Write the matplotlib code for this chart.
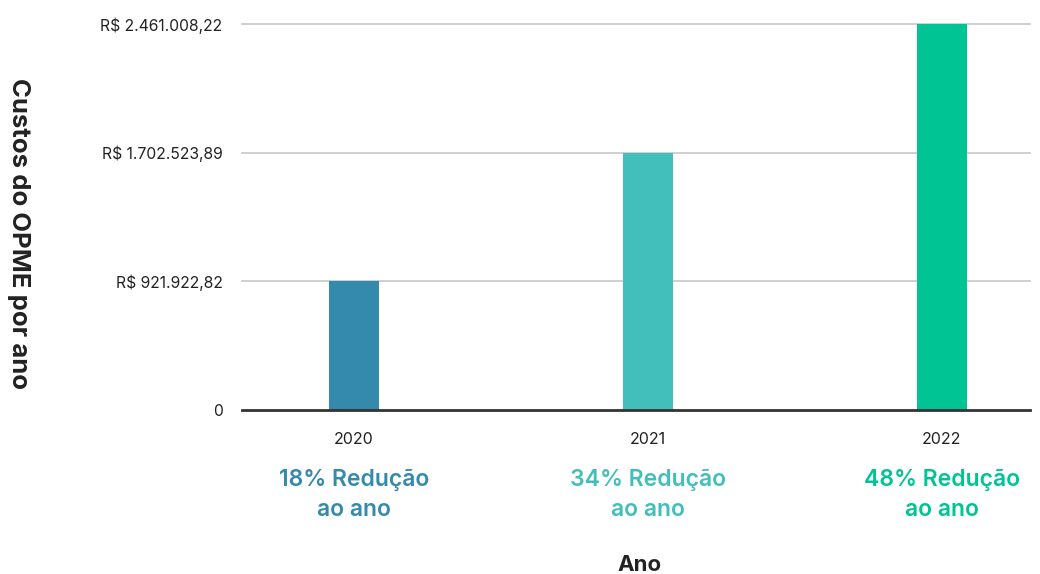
import numpy as np
import matplotlib
matplotlib.use("Agg")
import matplotlib.pyplot as plt
from matplotlib.transforms import blended_transform_factory

years = ["2020", "2021", "2022"]
costs = [921922.82, 1702523.89, 2461008.22]
tick_labels = ["0", "R$ 921.922,82", "R$ 1.702.523,89", "R$ 2.461.008,22"]
reductions = ["18% Redução\nao ano", "34% Redução\nao ano", "48% Redução\nao ano"]
colors = ["#348AAD", "#42BFBA", "#00C494"]

plt.rcParams['font.family'] = ['Inter', 'DejaVu Sans']

tick_vals = np.array([0.0] + costs)
tick_pos = np.arange(len(tick_vals), dtype=float)

def forward(v):
    v = np.asarray(v, dtype=float)
    out = np.interp(v, tick_vals, tick_pos)
    slope = (tick_pos[-1] - tick_pos[-2]) / (tick_vals[-1] - tick_vals[-2])
    out = np.where(v > tick_vals[-1], tick_pos[-1] + (v - tick_vals[-1]) * slope, out)
    return out

def inverse(p):
    p = np.asarray(p, dtype=float)
    out = np.interp(p, tick_pos, tick_vals)
    slope = (tick_vals[-1] - tick_vals[-2]) / (tick_pos[-1] - tick_pos[-2])
    out = np.where(p > tick_pos[-1], tick_vals[-1] + (p - tick_pos[-1]) * slope, out)
    return out

fig = plt.figure(figsize=(10.4, 5.74), dpi=100)
ax = fig.add_axes([242/1040, 1 - 410/574, (1030-242)/1040, (410-24)/574])
ax.set_yscale('function', functions=(forward, inverse))

x = np.arange(len(years))
ax.bar(x, costs, width=50/294, color=colors, zorder=3)

ax.set_ylim(0, costs[-1])
ax.set_xlim(-0.381, 2.30)
ax.set_yticks(tick_vals)
ax.set_yticklabels(tick_labels, fontsize=11.3, color="#222222")
ax.set_xticks(x)
ax.set_xticklabels(years, fontsize=11.5, color="#222222")
ax.tick_params(axis='both', length=0)
ax.tick_params(axis='y', pad=14)
ax.tick_params(axis='x', pad=16)

for v in tick_vals[1:]:
    ax.axhline(v, color="#cccccc", lw=1.3, zorder=1, clip_on=False)
ax.axhline(0, color="#333333", lw=2, zorder=4, clip_on=False)

for s in ax.spines.values():
    s.set_visible(False)

trans = blended_transform_factory(ax.transData, fig.transFigure)
for xi, txt, c in zip(x, reductions, colors):
    ax.text(xi, 1 - 495/574, txt, transform=trans, ha='center', va='center',
            fontsize=16.5, fontweight='semibold', color=c, linespacing=1.45)

fig.text(640/1040, 1 - 565/574, "Ano", ha='center', va='center',
         fontsize=16, fontweight='bold', color="#222222")
fig.text(18/1040, 1 - 234/574, "Custos do OPME por ano", ha='center', va='center',
         rotation=-90, fontsize=18.5, fontweight='bold', color="#222222")

fig.savefig("out.png", dpi=100, facecolor="white")
